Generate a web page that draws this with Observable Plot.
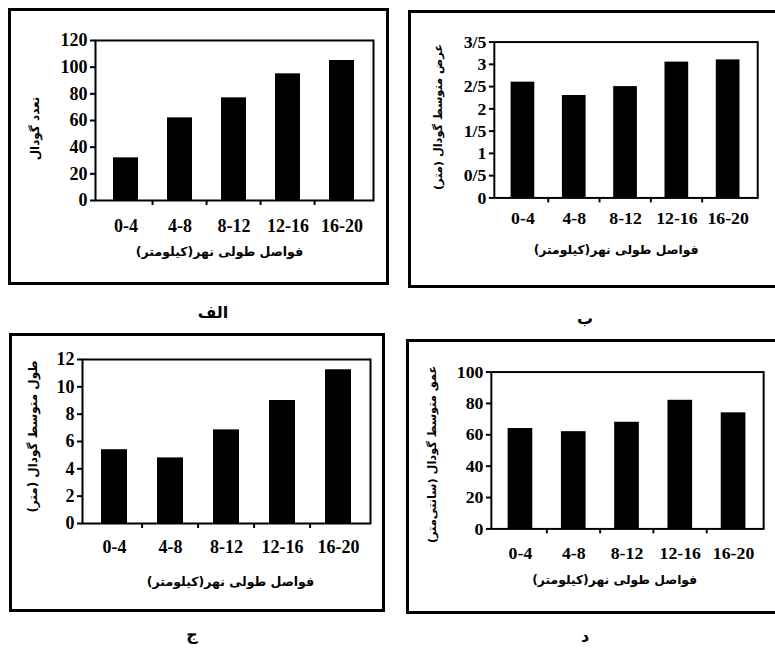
<!DOCTYPE html>
<html>
<head>
<meta charset="utf-8">
<script src="https://cdn.jsdelivr.net/npm/d3@7"></script>
<script src="https://cdn.jsdelivr.net/npm/@observablehq/plot@0.6"></script>
<style>
  html, body { margin: 0; padding: 0; background: #fff; }
  #page { position: relative; width: 775px; height: 649px; overflow: hidden; background: #fff; }
  .svgwrap { position: absolute; }
  .box { position: absolute; border: 3px solid #000; box-sizing: border-box; }
  .letter { position: absolute; font-family: "DejaVu Sans", sans-serif; font-weight: bold; font-size: 16px; transform: translate(-50%, -50%); direction: rtl; }
</style>
</head>
<body>
<div id="page"></div>
<script>
// ---- data ----
const categories = ["0-4", "4-8", "8-12", "12-16", "16-20"];
const pitCount   = [32, 62, 77, 95, 105];          // تعدد گودال
const meanWidth  = [2.6, 2.3, 2.5, 3.05, 3.1];     // عرض متوسط گودال (متر)
const meanLength = [5.4, 4.8, 6.85, 9.0, 11.25];   // طول متوسط گودال (متر)
const meanDepth  = [64, 62, 68, 82, 74];           // عمق متوسط گودال (سانتی‌متر)

const countTicks  = [0, 20, 40, 60, 80, 100, 120];
const widthTicks  = [0, 0.5, 1, 1.5, 2, 2.5, 3, 3.5];
const lengthTicks = [0, 2, 4, 6, 8, 10, 12];
const depthTicks  = [0, 20, 40, 60, 80, 100];

const xTitle = "فواصل طولی نهر(کیلومتر)";
const yTitles = ["تعدد گودال", "عرض متوسط گودال (متر)", "طول متوسط گودال (متر)", "عمق متوسط گودال (سانتی‌متر)"];
const panelLetters = ["الف", "ب", "ج", "د"];

// ---- layout ----
const page = document.getElementById("page");
const numFont = "'Liberation Serif', 'Times New Roman', serif";
const faFont = "'DejaVu Sans', sans-serif";

function panel(cfg) {
  const { box, frame, values, yDomain, yTicks, yFormat, yTitle, yTitleDx, yTitleDy, yTitleSize, xTitleDx, xTitleDy, xTickPad, letter, letterPos } = cfg;
  const [bx, by, bw, bh] = box;
  const [fx0, fy0, fx1, fy1] = frame;
  const ml = fx0 - bx, mr = bx + bw - fx1, mt = fy0 - by, mb = by + bh - fy1;
  const pi = 0.53, po = 0.3;
  const step = (fx1 - fx0) / (categories.length - pi + 2 * po);
  const rows = categories.map((c, i) => ({ cat: c, v: values[i] }));
  const chart = Plot.plot({
    width: bw, height: bh,
    marginLeft: ml, marginRight: mr, marginTop: mt, marginBottom: mb,
    x: { domain: categories, paddingInner: pi, paddingOuter: po },
    y: { domain: yDomain },
    style: { fontFamily: numFont, fontWeight: "bold", fontSize: "18px", color: "#000", background: "transparent", overflow: "visible" },
    marks: [
      Plot.barY(rows, { x: "cat", y: "v", fill: "#000" }),
      Plot.frame({ stroke: "#000", strokeWidth: 2 }),
      Plot.axisY({ ticks: yTicks, tickFormat: yFormat, tickSize: 5, tickPadding: 3, strokeWidth: 2, label: null }),
      Plot.axisX({ tickSize: 0, tickPadding: xTickPad, label: null, style: { letterSpacing: "1.5px" } }),
      Plot.ruleX(categories.slice(1), { x: d => d, dx: -step / 2, y1: d => 0, y2: d => 0, insetTop: 0, insetBottom: -5, strokeWidth: 2, stroke: "#000" }),
      Plot.text([yTitle], { text: d => d, frameAnchor: "left", textAnchor: "middle", rotate: -90, dx: yTitleDx, dy: yTitleDy, fontFamily: faFont, fontSize: yTitleSize, fontWeight: "bold", fill: "#000" }),
      Plot.text([xTitle], { text: d => d, frameAnchor: "bottom", textAnchor: "middle", dx: xTitleDx, dy: xTitleDy, fontFamily: faFont, fontSize: 12.5, fontWeight: "bold", fill: "#000" })
    ]
  });
  const wrap = document.createElement("div");
  wrap.className = "svgwrap";
  wrap.style.left = bx + "px"; wrap.style.top = by + "px";
  wrap.appendChild(chart);
  page.appendChild(wrap);
  const b = document.createElement("div");
  b.className = "box";
  b.style.left = bx + "px"; b.style.top = by + "px";
  b.style.width = bw + "px"; b.style.height = bh + "px";
  page.appendChild(b);
  const l = document.createElement("div");
  l.className = "letter";
  l.textContent = letter;
  l.style.left = letterPos[0] + "px"; l.style.top = letterPos[1] + "px";
  page.appendChild(l);
}

const slash = d => String(d).replace(".", "/");

panel({ box: [8, 8, 381, 277], frame: [95, 40, 373, 200], values: pitCount, yDomain: [0, 120], yTicks: countTicks,
  yFormat: d => String(d), yTitle: yTitles[0], yTitleDx: -60, yTitleDy: 8, yTitleSize: 12, xTitleDx: -15, xTitleDy: 55, xTickPad: 19,
  letter: panelLetters[0], letterPos: [213, 312] });
panel({ box: [408, 10, 372, 278], frame: [495, 42, 762, 200], values: meanWidth, yDomain: [0, 3.5], yTicks: widthTicks,
  yFormat: slash, yTitle: yTitles[1], yTitleDx: -57, yTitleDy: -3, yTitleSize: 11.5, xTitleDx: -10, xTitleDy: 57, xTickPad: 14,
  letter: panelLetters[1], letterPos: [585, 318] });
panel({ box: [9, 333, 376, 279], frame: [82, 359, 370, 523], values: meanLength, yDomain: [0, 12], yTicks: lengthTicks,
  yFormat: d => String(d), yTitle: yTitles[2], yTitleDx: -49, yTitleDy: -5, yTitleSize: 12, xTitleDx: 4, xTitleDy: 62, xTickPad: 17,
  letter: panelLetters[2], letterPos: [192, 634] });
panel({ box: [406, 339, 374, 275], frame: [492, 372, 768, 531], values: meanDepth, yDomain: [0, 100], yTicks: depthTicks,
  yFormat: d => String(d), yTitle: yTitles[3], yTitleDx: -60, yTitleDy: 4, yTitleSize: 11.5, xTitleDx: -13, xTitleDy: 56, xTickPad: 18,
  letter: panelLetters[3], letterPos: [585, 636] });
</script>
</body>
</html>
